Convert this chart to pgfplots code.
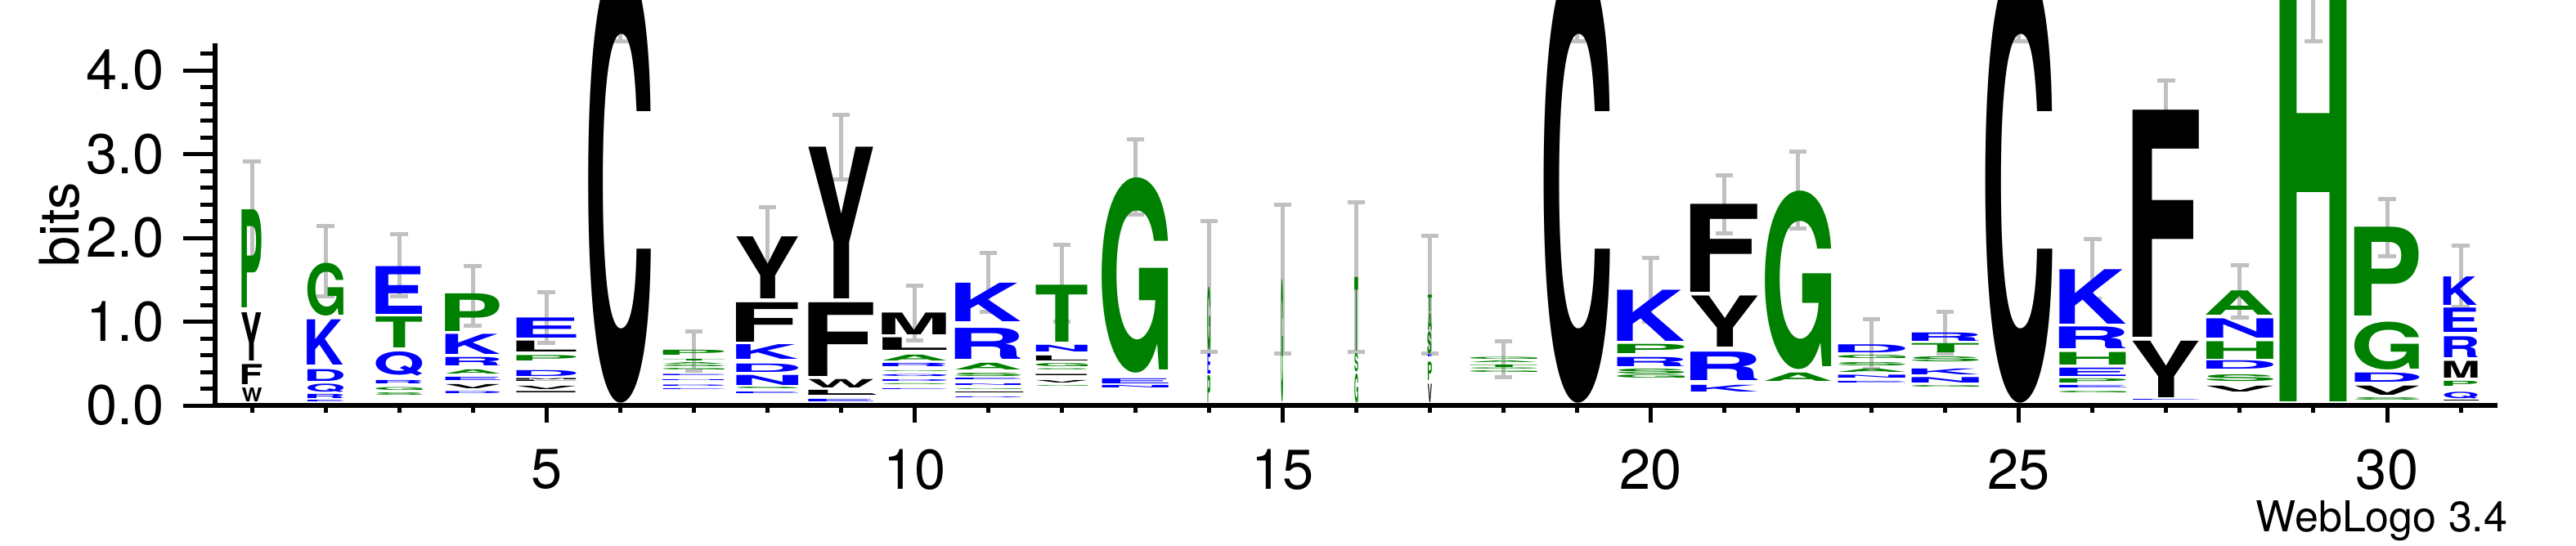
\documentclass[border=0pt]{standalone}
\usepackage{fontspec}
\setmainfont{TeX Gyre Heros}
\usepackage{graphicx}
\usepackage{pgfplots}
\usepackage{pgfplotstable}
\pgfplotsset{compat=1.18}

\definecolor{lgreen}{HTML}{008000}
\definecolor{lblue}{HTML}{0000FF}
\definecolor{lbar}{HTML}{C0C0C0}
% hydrophobicity colours
\colorlet{colG}{lgreen}\colorlet{colS}{lgreen}\colorlet{colT}{lgreen}
\colorlet{colA}{lgreen}\colorlet{colP}{lgreen}\colorlet{colH}{lgreen}
\colorlet{colR}{lblue}\colorlet{colK}{lblue}\colorlet{colD}{lblue}
\colorlet{colE}{lblue}\colorlet{colN}{lblue}\colorlet{colQ}{lblue}
\colorlet{colY}{black}\colorlet{colV}{black}\colorlet{colM}{black}
\colorlet{colC}{black}\colorlet{colL}{black}\colorlet{colF}{black}
\colorlet{colI}{black}\colorlet{colW}{black}

% letter stretched to w x h, side bearings cut off
\newsavebox\lbox
\newcount\lgid
\newdimen\llsb \newdimen\lrsb
\newcommand\logoglyph[3]{%
  \begingroup\normalfont\bfseries
  \edef\tmpL{#3}%
  \lgid=\expandafter\XeTeXcharglyph\expandafter`\tmpL\relax
  \llsb=\XeTeXglyphbounds1 \lgid
  \lrsb=\XeTeXglyphbounds3 \lgid
  \sbox\lbox{\kern-\llsb\tmpL\kern-\lrsb}%
  \resizebox*{#1}{#2}{\usebox\lbox}%
  \endgroup}

% x = position, y0 = bottom, h = height (bits), w = stack width
\pgfplotstableread{
x y0 h w L
1 0.04 0.165 0.27 W
1 0.25 0.24 0.27 F
1 0.53 0.575 0.27 Y
1 1.17 1.17 0.27 P
2 0.025 0.02 0.49 E
2 0.075 0.05 0.49 R
2 0.16 0.10 0.49 Q
2 0.29 0.14 0.49 D
2 0.48 0.54 0.49 K
2 1.07 0.63 0.49 G
3 0.10 0.03 0.63 S
3 0.17 0.035 0.63 G
3 0.25 0.04 0.63 R
3 0.35 0.29 0.63 Q
3 0.69 0.37 0.63 T
3 1.09 0.57 0.63 E
4 0.124 0.026 0.74 D
4 0.19 0.05 0.74 V
4 0.29 0.04 0.74 E
4 0.37 0.05 0.74 A
4 0.47 0.10 0.74 R
4 0.61 0.24 0.74 K
4 0.88 0.45 0.74 P
5 0.13 0.016 0.81 I
5 0.18 0.04 0.81 V
5 0.26 0.015 0.81 L
5 0.285 0.015 0.81 M
5 0.35 0.07 0.81 D
5 0.53 0.065 0.81 P
5 0.64 0.13 0.81 L
5 0.81 0.24 0.81 E
6 0.03 5.3 0.85 C
7 0.16 0.01 0.83 E
7 0.20 0.015 0.83 D
7 0.27 0.01 0.83 N
7 0.33 0.015 0.83 E
7 0.40 0.02 0.83 G
7 0.44 0.02 0.83 S
7 0.47 0.02 0.83 A
7 0.51 0.02 0.83 T
7 0.60 0.06 0.83 P
8 0.12 0.02 0.84 E
8 0.18 0.02 0.84 S
8 0.24 0.12 0.84 N
8 0.40 0.10 0.84 D
8 0.55 0.175 0.84 K
8 0.76 0.47 0.84 F
8 1.27 0.74 0.84 Y
9 0.03 0.03 0.88 E
9 0.09 0.01 0.88 I
9 0.12 0.05 0.88 L
9 0.21 0.10 0.88 W
9 0.35 0.88 0.88 F
9 1.27 1.81 0.88 Y
10 0.16 0.01 0.87 E
10 0.22 0.012 0.87 S
10 0.27 0.02 0.87 D
10 0.33 0.025 0.87 Q
10 0.38 0.01 0.87 G
10 0.45 0.04 0.87 R
10 0.53 0.07 0.87 A
10 0.66 0.15 0.87 L
10 0.84 0.26 0.87 M
11 0.07 0.01 0.885 D
11 0.12 0.01 0.885 I
11 0.16 0.01 0.885 G
11 0.22 0.02 0.885 N
11 0.29 0.02 0.885 E
11 0.33 0.04 0.885 S
11 0.42 0.08 0.885 A
11 0.55 0.37 0.885 R
11 1.00 0.46 0.885 K
12 0.20 0.01 0.70 G
12 0.25 0.03 0.70 V
12 0.33 0.015 0.70 I
12 0.40 0.015 0.70 S
12 0.45 0.04 0.70 G
12 0.53 0.06 0.70 L
12 0.64 0.08 0.70 N
12 0.76 0.68 0.70 T
13 0.19 0.03 0.90 N
13 0.26 0.06 0.90 E
13 0.39 2.33 0.90 G
14 0.03 0.32 0.04 P
14 0.38 0.24 0.04 E
14 0.66 0.76 0.04 G
15 0.03 1.48 0.03 G
16 0.03 0.35 0.05 G
16 0.40 0.22 0.05 S
16 0.65 0.88 0.05 T
17 0.03 0.22 0.055 V
17 0.30 0.22 0.055 P
17 0.56 0.03 0.055 E
17 0.62 0.26 0.055 S
17 0.90 0.20 0.055 A
17 1.12 0.20 0.055 T
18 0.37 0.02 0.91 G
18 0.41 0.015 0.91 S
18 0.44 0.03 0.91 T
18 0.49 0.02 0.91 A
18 0.53 0.025 0.91 G
19 0.03 5.3 0.90 C
20 0.31 0.04 0.91 G
20 0.37 0.06 0.91 S
20 0.46 0.11 0.91 R
20 0.62 0.11 0.91 P
20 0.77 0.61 0.91 K
21 0.16 0.08 0.91 K
21 0.30 0.34 0.91 R
21 0.70 0.61 0.91 Y
21 1.35 1.05 0.91 F
22 0.29 0.10 0.90 A
22 0.43 2.13 0.90 G
23 0.25 0.02 0.91 E
23 0.31 0.035 0.91 N
23 0.38 0.04 0.91 A
23 0.46 0.04 0.91 S
23 0.55 0.04 0.91 G
23 0.63 0.095 0.91 D
24 0.20 0.02 0.91 G
24 0.27 0.065 0.91 N
24 0.37 0.07 0.91 K
24 0.52 0.06 0.91 S
24 0.63 0.11 0.91 T
24 0.77 0.10 0.91 R
25 0.03 5.3 0.91 C
26 0.13 0.02 0.90 G
26 0.19 0.03 0.90 E
26 0.26 0.05 0.90 P
26 0.35 0.10 0.90 E
26 0.48 0.15 0.90 H
26 0.68 0.26 0.90 R
26 0.97 0.65 0.90 K
27 0.04 0.01 0.90 E
27 0.095 0.675 0.90 Y
27 0.81 2.71 0.90 F
28 0.16 0.07 0.91 V
28 0.29 0.08 0.91 S
28 0.43 0.10 0.91 D
28 0.55 0.21 0.91 H
28 0.81 0.23 0.91 N
28 1.08 0.29 0.91 A
29 0.04 5.5 0.91 H
30 0.05 0.03 0.875 S
30 0.12 0.11 0.875 V
30 0.28 0.11 0.875 D
30 0.43 0.57 0.875 G
30 1.07 1.06 0.875 P
31 0.03 0.01 0.455 I
31 0.08 0.08 0.455 Q
31 0.23 0.06 0.455 P
31 0.33 0.20 0.455 M
31 0.57 0.25 0.455 R
31 0.87 0.29 0.455 E
31 1.20 0.34 0.455 K
}\logodata

% stack top and error
\pgfplotstableread{
x t e
1 2.34 0.575
2 1.72 0.42
3 1.67 0.37
4 1.31 0.355
5 1.05 0.30
6 5.33 0.98
7 0.65 0.235
8 2.01 0.355
9 3.08 0.385
10 1.10 0.325
11 1.47 0.35
12 1.46 0.46
13 2.73 0.45
14 1.42 0.78
15 1.51 0.89
16 1.53 0.89
17 1.32 0.70
18 0.55 0.215
19 5.33 0.98
20 1.38 0.38
21 2.40 0.35
22 2.57 0.46
23 0.73 0.295
24 0.87 0.25
25 5.33 0.98
26 1.63 0.36
27 3.52 0.36
28 1.36 0.31
29 5.54 1.19
30 2.12 0.34
31 1.54 0.365
}\errdata

\begin{document}
\begin{tikzpicture}
\begin{axis}[
    at={(0,0)}, anchor=south west,
    x=13.505pt, y=15.375pt,
    xmin=0.5, xmax=31.5, ymin=0, ymax=4.32,
    axis x line*=bottom, axis y line*=left,
    axis line style={line width=0.8pt},
    clip=false,
    tick align=outside,
    xtick={5,10,15,20,25,30},
    minor xtick={1,...,31},
    ytick={0,1,2,3,4},
    minor ytick={0.2,0.4,0.6,0.8,1.2,1.4,1.6,1.8,2.2,2.4,2.6,2.8,3.2,3.4,3.6,3.8,4.2},
    major tick length=5.8pt, minor tick length=2.7pt,
    xtick style={/pgfplots/major tick length=3.2pt, /pgfplots/minor tick length=1.4pt},
    every tick/.style={black, line width=0.75pt},
    /pgf/number format/assume math mode=true,
    yticklabel={\pgfmathprintnumber[fixed,fixed zerofill,precision=1]{\tick}},
    tick label style={font=\fontsize{10.3}{11}\selectfont},
    xticklabel style={yshift=1.3pt},
    ylabel={bits},
    ylabel style={font=\fontsize{13}{14}\selectfont},
    every axis y label/.style={at={(axis description cs:-0.0683,0.5)}, rotate=90, anchor=center},
]
\addplot[scatter, only marks, mark=*, mark size=0pt, mark options={draw=none, fill=none},
    point meta=explicit symbolic,
    visualization depends on={\thisrow{h} \as \hh},
    visualization depends on={\thisrow{w} \as \ww},
    scatter/@pre marker code/.code={%
        \edef\LL{\pgfplotspointmeta}%
        \pgfmathsetmacro\hpt{\hh*15.375}%
        \pgfmathsetmacro\wpt{\ww*13.505}%
        \node[inner sep=0pt, outer sep=0pt, anchor=south, text=col\LL]
            {\logoglyph{\wpt pt}{\hpt pt}{\LL}};%
    },
    scatter/@post marker code/.code={},
] table[x=x, y=y0, meta=L] {\logodata};

\addplot[draw=none, mark=none,
    error bars/.cd, y dir=both, y explicit,
    error bar style={draw=lbar, line width=0.75pt},
    error mark options={draw=lbar, line width=0.75pt, mark size=1.6pt, rotate=90},
] table[x=x, y=t, y error=e] {\errdata};
\end{axis}
\node[anchor=east, inner sep=0pt, font=\fontsize{7.8}{9}\selectfont] at (420.7pt,-21.15pt) {WebLogo 3.4};
\pgfresetboundingbox
\useasboundingbox (-39.45pt,-25.65pt) rectangle (433.05pt,74.4pt);
\end{tikzpicture}
\end{document}
